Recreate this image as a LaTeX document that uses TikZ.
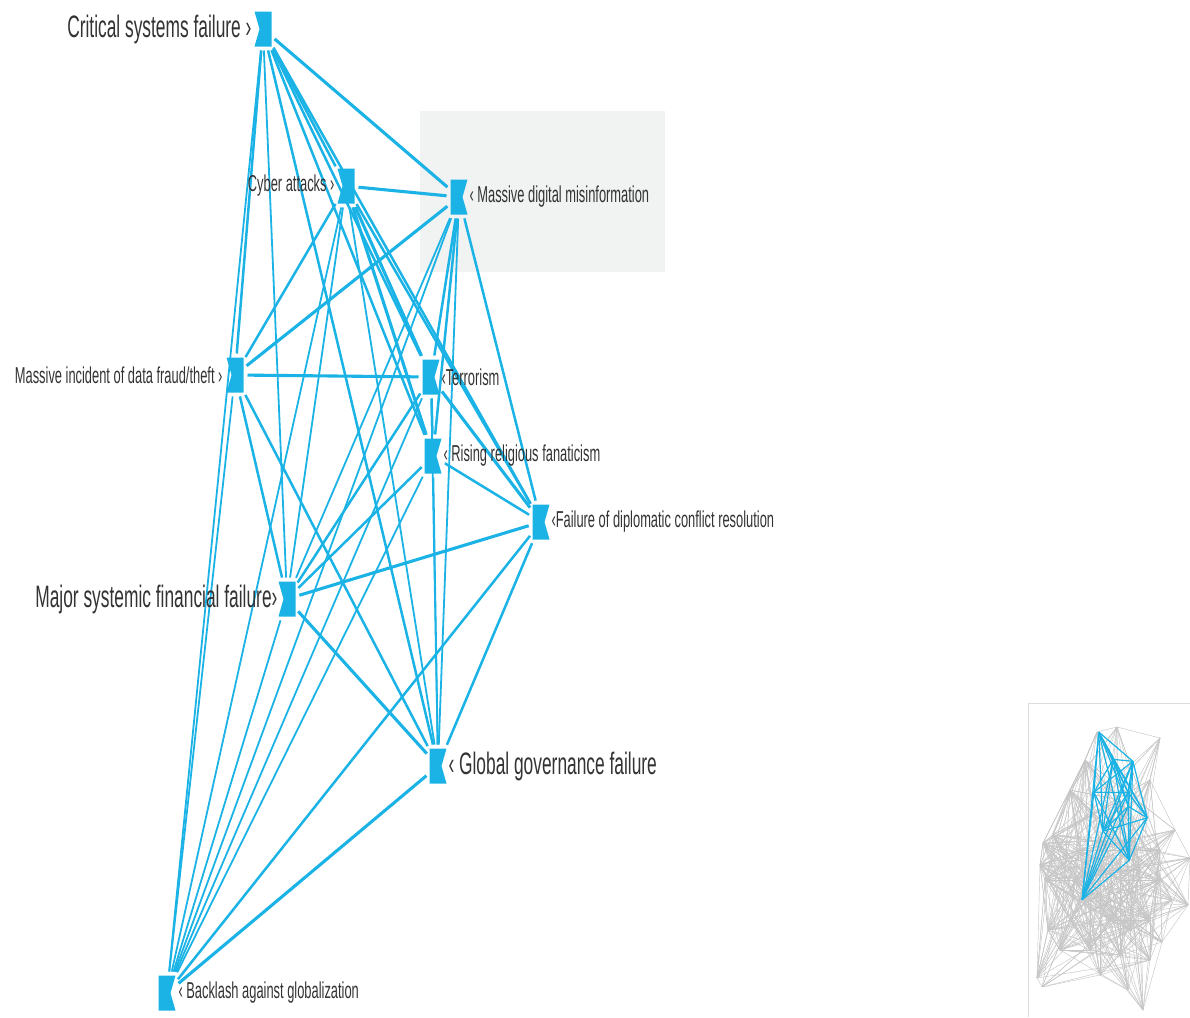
\documentclass[tikz,border=0pt]{standalone}
\usepackage{fontspec}
\setmainfont{Liberation Sans}[FakeStretch=0.56]
\usetikzlibrary{positioning}
\definecolor{riskblue}{HTML}{1BB3E6}
\definecolor{txtgrey}{HTML}{333333}
\definecolor{boxgrey}{HTML}{F1F2F2}
\definecolor{meshgrey}{HTML}{C6C6C6}
\definecolor{framegrey}{HTML}{DCDCDC}
\pgfdeclarelayer{background}
\pgfsetlayers{background,main}
% links of the highlighted cluster, by line weight
\def\thicklinks{csf/mdm, ca/mdm, mdf/terr, mdm/mdf, fdc/msff, msff/ggf, terr/fdc, ca/terr, ca/rrf, ggf/bag}
\def\normlinks{csf/ca, csf/mdf, csf/terr, csf/rrf, csf/fdc, ca/mdf, ca/fdc, mdm/terr, mdm/rrf, mdm/fdc, mdf/msff, mdf/ggf, terr/rrf, rrf/fdc, fdc/ggf, terr/msff, rrf/msff, fdc/bag, csf/ggf}
\def\thinlinks{csf/msff, csf/bag, ca/msff, ca/ggf, ca/bag, mdm/msff, mdm/ggf, mdm/bag, mdf/bag, terr/ggf, terr/bag, rrf/ggf, rrf/bag, msff/bag}

\begin{document}
\begin{tikzpicture}[x=1pt,y=-1pt,% pixel grid, y running down
		risk/.style={
			rectangle, minimum width=17pt, minimum height=35pt,
			inner sep=0pt, outer sep=0pt
		},
		riskL/.style={risk,% notch on the left side
			path picture={\fill[riskblue] (path picture bounding box.south west)
				-- ([xshift=5pt]path picture bounding box.west)
				-- (path picture bounding box.north west)
				-- (path picture bounding box.north east)
				-- (path picture bounding box.south east) -- cycle;}
		},
		riskR/.style={risk,% notch on the right side
			path picture={\fill[riskblue] (path picture bounding box.south west)
				-- (path picture bounding box.north west)
				-- (path picture bounding box.north east)
				-- ([xshift=-5pt]path picture bounding box.east)
				-- (path picture bounding box.south east) -- cycle;}
		},
		lbl/.style={inner sep=0pt, outer sep=0pt, text=txtgrey},
		biglbl/.style={lbl, font=\fontsize{31}{31}\selectfont},
		midlbl/.style={lbl, font=\fontsize{23}{23}\selectfont},
		every link/.style={draw=riskblue, shorten <=4pt, shorten >=4pt},
		link/.style={every link, line width=2.5pt},
		thicklink/.style={every link, line width=3.1pt},
		thinlink/.style={every link, line width=1.8pt},
		minilink/.style={draw=riskblue, line width=1.2pt},
		meshline/.style={draw=meshgrey, line width=0.45pt}
	]
	\useasboundingbox (0,0) rectangle (1190,1017);

	% risk nodes
	\node[riskL] (csf)  at (263,29)  {};
	\node[riskL] (ca)   at (346,186) {};
	\node[riskR] (mdm)  at (459,197) {};
	\node[riskL] (mdf)  at (235,375) {};
	\node[riskR] (terr) at (431,377) {};
	\node[riskR] (rrf)  at (433,456) {};
	\node[riskR] (fdc)  at (541,522) {};
	\node[riskL] (msff) at (287,599) {};
	\node[riskR] (ggf)  at (438,766) {};
	\node[riskR] (bag)  at (167,993) {};

	% labels
	\node[biglbl, left=3pt of csf]   (csfl)  {Critical systems failure ›};
	\node[midlbl, left=3pt of ca]    (cal)   {Cyber attacks ›};
	\node[midlbl, right=2pt of mdm]  (mdml)  {‹ Massive digital misinformation};
	\node[midlbl, left=4pt of mdf]   (mdfl)  {Massive incident of data fraud/theft ›};
	\node[midlbl, right=2pt of terr] (terrl) {‹Terrorism};
	\node[midlbl, right=2pt of rrf]  (rrfl)  {‹ Rising religious fanaticism};
	\node[midlbl, right=2pt of fdc]  (fdcl)  {‹Failure of diplomatic conflict resolution};
	\node[biglbl, left=1pt of msff]  (msffl) {Major systemic financial failure›};
	\node[biglbl, right=2pt of ggf]  (ggfl)  {‹ Global governance failure};
	\node[midlbl, right=3pt of bag]  (bagl)  {‹ Backlash against globalization};

	\begin{pgfonlayer}{background}
		\fill[boxgrey] (420,111) rectangle (665,272); % highlight box
		\foreach \a/\b in \thicklinks {\path[thicklink] (\a) -- (\b);}
		\foreach \a/\b in \normlinks {\path[link] (\a) -- (\b);}
		\foreach \a/\b in \thinlinks {\path[thinlink] (\a) -- (\b);}
	\end{pgfonlayer}

	% overview map
	\draw[framegrey, line width=1pt] (1190,703) -- (1028,703) -- (1028,1017);
	\foreach \i/\x/\y in {1/1097/732, 2/1117/727, 3/1160/738, 4/1150/780, 5/1175/830,
		6/1190/858, 7/1188/905, 8/1162/942, 9/1143/1010, 10/1128/990,
		11/1100/975, 12/1042/987, 13/1037/978, 14/1048/930, 15/1045/880,
		16/1040/865, 17/1043/843, 18/1053/835, 19/1070/790, 20/1085/760,
		21/1080/850, 22/1100/870, 23/1120/880, 24/1140/870, 25/1160/880,
		26/1172/900, 27/1090/900, 28/1110/920, 29/1130/930, 30/1150/920,
		31/1070/920, 32/1060/950, 33/1090/950, 34/1120/955, 35/1150/960,
		36/1105/840, 37/1135/840, 38/1160/850, 39/1075/880, 40/1120/800}
		\coordinate (p\i) at (\x,\y);
	\draw[meshline] (p1) -- (p2) -- (p3) -- (p4) -- (p5) -- (p6) -- (p7) -- (p8) -- (p9)
		-- (p10) -- (p11) -- (p12) -- (p13) -- (p14) -- (p15) -- (p16) -- (p17)
		-- (p18) -- (p19) -- (p20) -- cycle;
	\pgfmathsetseed{17}
	\foreach \k in {1,...,520} {
		\pgfmathtruncatemacro\ia{random(1,40)}
		\pgfmathtruncatemacro\ib{random(14,40)}
		\draw[meshline] (p\ia) -- (p\ib);
	}
	\begin{scope}[shift={(1053,727)}, scale=0.174]
		\foreach \n/\x/\y in {csf/263/29, ca/346/186, mdm/459/197, mdf/235/375,
			terr/431/377, rrf/433/456, fdc/541/522, msff/287/599, ggf/438/766, bag/167/993}
			\coordinate (m\n) at (\x,\y);
	\end{scope}
	\foreach \a/\b in \thicklinks {\path[minilink] (m\a) -- (m\b);}
	\foreach \a/\b in \normlinks {\path[minilink] (m\a) -- (m\b);}
	\foreach \a/\b in \thinlinks {\path[minilink] (m\a) -- (m\b);}
\end{tikzpicture}
\end{document}
